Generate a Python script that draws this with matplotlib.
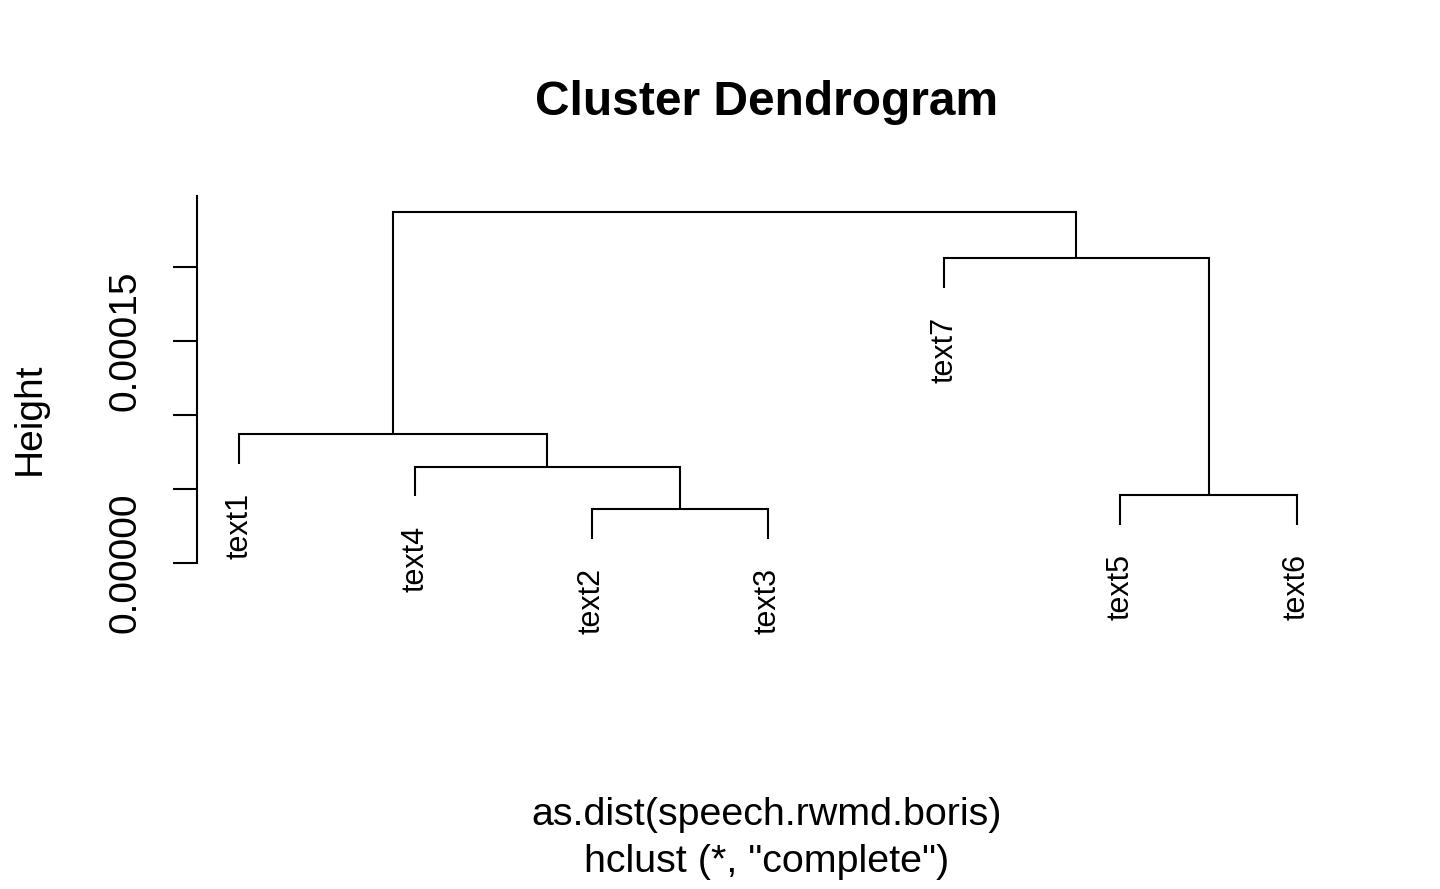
import matplotlib
matplotlib.use("Agg")
import matplotlib.pyplot as plt
import numpy as np

plt.rcParams['font.family'] = ['Liberation Sans', 'DejaVu Sans']

# leaf order as drawn, left to right
leaf_order = ['text1', 'text4', 'text2', 'text3', 'text7', 'text5', 'text6']

# merges (like hclust$merge): child a, child b, height
merge_a = ['text2', 'text5', 'text4', 'text1', 'text7', 'm4']
merge_b = ['text3', 'text6', 'm1', 'm3', 'm2', 'm5']
merge_h = [0.0000365, 0.0000459, 0.0000651, 0.0000872, 0.0002059, 0.0002370]

y_ticks = [0.0, 0.00005, 0.00010, 0.00015, 0.00020]
y_tick_labels = ['0.00000', '', '', '0.00015', '']

W, H = 1440, 889
fig = plt.figure(figsize=(W / 100, H / 100), dpi=100)
ax = fig.add_axes([196.7 / W, (H - 563) / H, (1339 - 196.7) / W, 370 / H])

hang = 0.1 * (max(merge_h) - min(merge_h))

xpos = {name: i + 1 for i, name in enumerate(leaf_order)}
ypos = {}
for i, (a, b, h) in enumerate(zip(merge_a, merge_b, merge_h)):
    node = 'm%d' % (i + 1)
    for c in (a, b):
        if c not in ypos:
            ypos[c] = h - hang
    xa, xb = xpos[a], xpos[b]
    ax.plot([xa, xa, xb, xb], [ypos[a], h, h, ypos[b]], color='black',
            lw=1.5, solid_capstyle='butt', solid_joinstyle='miter')
    xpos[node] = (xa + xb) / 2
    ypos[node] = h

for name in leaf_order:
    ax.annotate(name, (xpos[name], ypos[name]), xytext=(0, -21),
                textcoords='offset points', rotation=90, ha='center',
                va='top', fontsize=22, annotation_clip=False)

ax.set_xlim(0.76, 7.24)
ax.set_ylim(0, 0.00025)
for s in ['top', 'right', 'bottom']:
    ax.spines[s].set_visible(False)
ax.spines['left'].set_bounds(0, 0.000248)
ax.spines['left'].set_linewidth(1.5)
ax.set_xticks([])
ax.set_yticks(y_ticks)
ax.set_yticklabels(y_tick_labels, rotation=90, va='center', fontsize=28)
ax.tick_params(axis='y', length=17, width=1.5, pad=21)

fig.text(767 / W, 1 - 115 / H, 'Cluster Dendrogram', ha='center', va='baseline',
         fontsize=34.5, fontweight='bold')
fig.text(30 / W, 1 - 419 / H, 'Height', rotation=90, ha='center', va='center',
         fontsize=28)
fig.text(767 / W, 1 - 825 / H, 'as.dist(speech.rwmd.boris)', ha='center',
         va='baseline', fontsize=28.4)
fig.text(767 / W, 1 - 872 / H, 'hclust (*, "complete")', ha='center',
         va='baseline', fontsize=28.4)

fig.savefig('out.png', dpi=100)
